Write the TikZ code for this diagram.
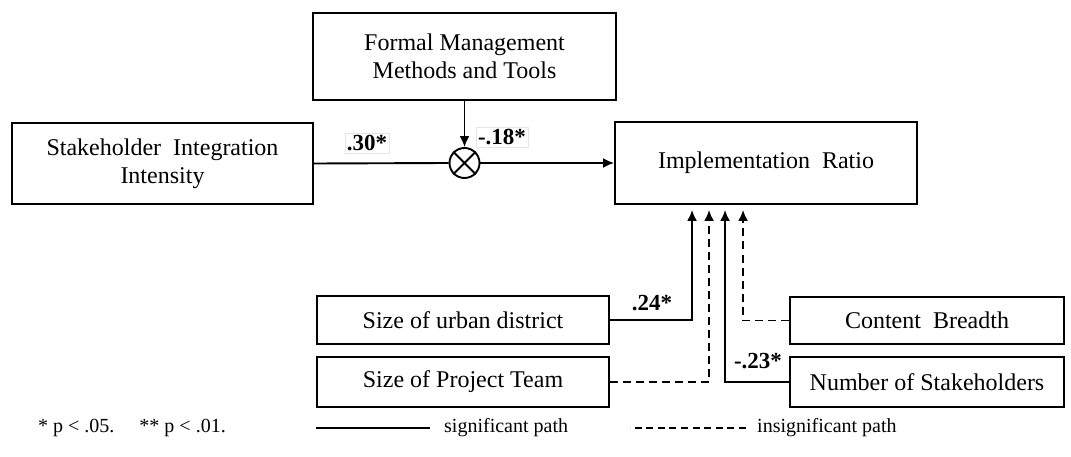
\documentclass[tikz,border=0pt]{standalone}
\usepackage{fontspec}
\setmainfont{Liberation Serif}
\usetikzlibrary{arrows.meta}

\tikzset{
  box/.style={draw, line width=1.9pt, inner sep=0pt, align=center,
    font=\fontsize{24}{28}\selectfont},
  coef/.style={draw=gray!20, line width=0.6pt, inner sep=2pt,
    font=\bfseries\fontsize{23}{26}\selectfont},
  sig/.style={line width=1.9pt, -{Latex[length=11pt,width=10pt]}},
  insig/.style={sig, dash pattern=on 8pt off 5pt},
  legtext/.style={anchor=west, inner sep=0pt, font=\fontsize{20}{22}\selectfont}
}

\begin{document}
\begin{tikzpicture}[x=1pt, y=-1pt]
      \useasboundingbox (0,0) rectangle (1071,457);
      % boxes
      \node[box, minimum width=303, minimum height=87] (fmm) at (464.5,56.5)
        {Formal Management\\Methods and Tools};
      \node[box, minimum width=301, minimum height=81] (sii) at (162.5,163.5)
        {Stakeholder\ \ Integration\\Intensity};
      \node[box, minimum width=302, minimum height=82] (ir) at (766,163)
        {Implementation\ \ Ratio};
      \node[box, minimum width=292, minimum height=48] (urban) at (463,320)
        {Size of urban district};
      \node[box, minimum width=292, minimum height=50] (team) at (463,382)
        {Size of Project Team};
      \node[box, minimum width=274, minimum height=47] (breadth) at (927,320.5)
        {Content\ \ Breadth};
      \node[box, minimum width=274, minimum height=50] (number) at (927,382)
        {Number of Stakeholders};
      % moderation
      \node[circle, draw, line width=1.9pt, minimum size=30, inner sep=0pt] (mult) at (464.5,163) {};
      \draw[line width=1.9pt] (mult.north west) -- (mult.south east)
        (mult.north east) -- (mult.south west);
      \draw[line width=1.9pt] (sii.east) -- (mult.west);
      \draw[sig] (mult.east) -- (ir.west);
      \draw[sig] (fmm.south) -- (mult.north);
      % controls
      \draw[sig] (urban.east) -| ([xshift=78pt, yshift=-5pt]ir.south west);
      \draw[insig] (team.east) -| ([xshift=95pt, yshift=-5pt]ir.south west);
      \draw[sig] (number.west) -| ([xshift=111pt, yshift=-5pt]ir.south west);
      \draw[insig] (breadth.west) -| ([xshift=129pt, yshift=-5pt]ir.south west);
      % coefficients
      \node[coef] (c30) at (367,143) {.30*};
      \node[coef] (c18) at (502,137) {-.18*};
      \node[coef, draw=none] (c24) at (652,303) {.24*};
      \node[coef, draw=none] (c23) at (758,361) {-.23*};
      % legend
      \node[legtext] (note) at (38,428) {* p < .05.\quad\ ** p < .01.};
      \node[legtext] (sigtxt) at (444,428) {significant path};
      \node[legtext] (insigtxt) at (757,428) {insignificant path};
      \draw[line width=1.9pt] ([xshift=-14pt]sigtxt.west) -- ++(-114,0);
      \draw[line width=1.9pt, dash pattern=on 7pt off 4.6pt] ([xshift=-11pt]insigtxt.west) -- ++(-116,0);
    \end{tikzpicture}
\end{document}
